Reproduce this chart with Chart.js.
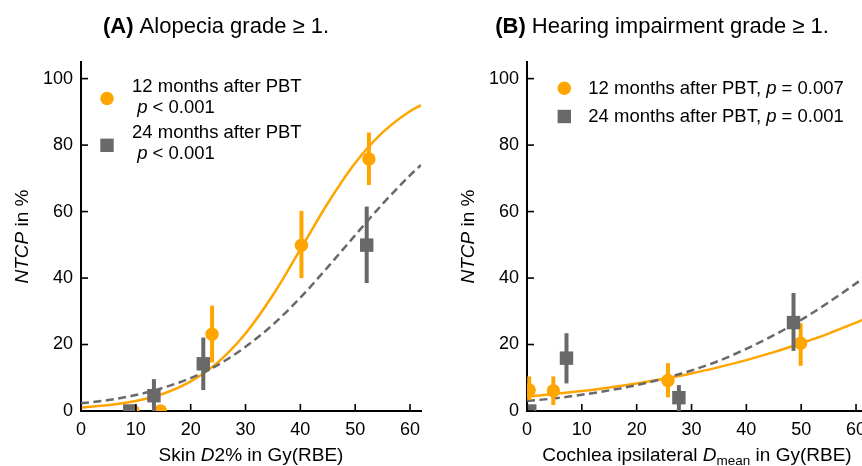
<!DOCTYPE html>
<html>
<head>
<meta charset="utf-8">
<script src="https://cdn.jsdelivr.net/npm/chart.js@4.4.1/dist/chart.umd.min.js"></script>
<style>
  html, body { margin: 0; padding: 0; background: #fff; }
  #wrap { position: relative; width: 862px; height: 466px; overflow: hidden; }
  canvas { position: absolute; top: 0; }
  #chartA { left: 0; }
  #chartB { left: 446px; }
</style>
</head>
<body>
<div id="wrap">
  <canvas id="chartA" width="431" height="466"></canvas>
  <canvas id="chartB" width="431" height="466"></canvas>
</div>
<script>
/* Ticks */
const xTicks = [0, 10, 20, 30, 40, 50, 60];
const yTicks = [0, 20, 40, 60, 80, 100];

/* Fitted NTCP curves */
const curveX = [0, 5, 10, 15, 20, 25, 30, 35, 40, 45, 50, 55, 60, 62];
const alopeciaFit12 = [1.0, 1.8, 3.0, 5.2, 8.9, 14.7, 23.3, 34.9, 48.6, 62.5, 74.6, 83.8, 90.2, 92.0];
const alopeciaFit24 = [2.3, 3.3, 4.8, 7.0, 9.9, 13.9, 19.3, 26.0, 34.1, 43.3, 52.9, 62.3, 70.9, 74.0];
const hearingFit12 = [4.3, 5.1, 6.0, 7.1, 8.3, 9.7, 11.3, 13.2, 15.3, 17.7, 20.4, 23.3, 26.6, 27.9];
const hearingFit24 = [3.0, 3.8, 4.9, 6.2, 7.8, 9.8, 12.2, 15.1, 18.7, 22.8, 27.4, 32.7, 38.4, 40.8];

/* (A) observed rates with error bars */
const alopeciaDose12 = [9.5, 14.5, 23.9, 40.2, 52.5];
const alopeciaRate12 = [0, 0, 23.1, 49.9, 75.8];
const alopeciaLow12  = [0, 0, 14.6, 40.0, 68.0];
const alopeciaHigh12 = [0, 0, 31.7, 60.2, 83.8];
const alopeciaDose24 = [8.9, 13.3, 22.3, 52.1];
const alopeciaRate24 = [0, 4.6, 14.2, 49.9];
const alopeciaLow24  = [0, 0, 6.3, 38.5];
const alopeciaHigh24 = [0, 9.6, 22.1, 61.5];

/* (B) observed rates with error bars */
const hearingDose12 = [0.4, 4.8, 25.7, 49.9];
const hearingRate12 = [6.3, 6.1, 9.2, 20.4];
const hearingLow12  = [3.3, 1.8, 4.1, 13.6];
const hearingHigh12 = [10.4, 10.4, 14.4, 26.4];
const hearingDose24 = [0.5, 7.2, 27.7, 48.6];
const hearingRate24 = [0, 15.9, 4.0, 26.6];
const hearingLow24  = [0, 8.3, 0, 18.1];
const hearingHigh24 = [0, 23.4, 7.8, 35.5];

const FONT = '"Liberation Sans", Arial, Helvetica, sans-serif';
const ORANGE = '#FFA500';
const GREY = '#696969';
const f = (size, style) => (style ? style + ' ' : '') + size + 'px ' + FONT;

function xy(xs, ys) {
  return xs.map((x, i) => ({ x, y: ys[i] }));
}

/* draw a row of text runs with mixed fonts */
function drawRuns(ctx, runs, x, y, align) {
  let total = 0;
  runs.forEach(r => { ctx.font = r.f; r.w = ctx.measureText(r.t).width; total += r.w; });
  let cx = align === 'center' ? x - total / 2 : x;
  ctx.textAlign = 'left';
  ctx.textBaseline = 'alphabetic';
  runs.forEach(r => { ctx.font = r.f; ctx.fillText(r.t, cx, y + (r.dy || 0)); cx += r.w; });
}

function panelPlugin(p) {
  return {
    id: 'panel' + p.id,
    beforeDatasetDraw(chart, args) {
      const ds = chart.data.datasets[args.index];
      if (!ds.errLow) return;
      const { ctx, chartArea: a, scales: { x, y } } = chart;
      ctx.save();
      ctx.beginPath();
      ctx.rect(a.left, a.top, a.right - a.left, a.bottom - a.top);
      ctx.clip();
      ctx.strokeStyle = ds.pointBackgroundColor;
      ctx.lineWidth = 4;
      ds.data.forEach((pt, i) => {
        if (ds.errHigh[i] === ds.errLow[i]) return;
        const px = x.getPixelForValue(pt.x);
        ctx.beginPath();
        ctx.moveTo(px, y.getPixelForValue(ds.errLow[i]));
        ctx.lineTo(px, y.getPixelForValue(ds.errHigh[i]));
        ctx.stroke();
      });
      ctx.restore();
    },
    afterDraw(chart) {
      const { ctx, chartArea: a, scales: { x, y } } = chart;
      ctx.save();

      /* inward tick marks */
      ctx.strokeStyle = '#000';
      ctx.lineWidth = 1.6;
      x.ticks.forEach(t => {
        const px = x.getPixelForValue(t.value);
        ctx.beginPath(); ctx.moveTo(px, a.bottom); ctx.lineTo(px, a.bottom - 7); ctx.stroke();
      });
      y.ticks.forEach(t => {
        const py = y.getPixelForValue(t.value);
        ctx.beginPath(); ctx.moveTo(a.left, py); ctx.lineTo(a.left + 7, py); ctx.stroke();
      });

      ctx.fillStyle = '#000';
      drawRuns(ctx, p.title, 216, 33, 'center');
      drawRuns(ctx, p.xTitle, (a.left + a.right) / 2, 461, 'center');

      ctx.save();
      ctx.translate(27.5, (a.top + a.bottom) / 2);
      ctx.rotate(-Math.PI / 2);
      drawRuns(ctx, [{ t: 'NTCP', f: f(19, 'italic') }, { t: ' in %', f: f(19) }], 0, 0, 'center');
      ctx.restore();

      /* legend */
      p.legend.forEach(item => {
        ctx.fillStyle = item.color;
        if (item.marker === 'circle') {
          ctx.beginPath(); ctx.arc(item.mx, item.my, 6.7, 0, Math.PI * 2); ctx.fill();
        } else {
          ctx.fillRect(item.mx - 6.7, item.my - 6.7, 13.4, 13.4);
        }
        ctx.fillStyle = '#000';
        item.lines.forEach(l => drawRuns(ctx, l.runs, l.x, l.y, 'left'));
      });
      ctx.restore();
    }
  };
}

function makeChart(id, p) {
  const ticksFont = { family: FONT, size: 18 };
  new Chart(document.getElementById(id), {
    type: 'scatter',
    data: {
      datasets: [
        {
          data: xy(curveX, p.fit12), showLine: true, fill: false,
          borderColor: ORANGE, borderWidth: 2.5, pointRadius: 0, pointHoverRadius: 0,
          cubicInterpolationMode: 'monotone', clip: 0, order: 3
        },
        {
          data: xy(curveX, p.fit24), showLine: true, fill: false,
          borderColor: GREY, borderWidth: 2.5, borderDash: [8, 4.5], pointRadius: 0, pointHoverRadius: 0,
          cubicInterpolationMode: 'monotone', clip: 0, order: 2
        },
        {
          data: xy(p.dose12, p.rate12), errLow: p.low12, errHigh: p.high12,
          pointStyle: 'circle', pointRadius: 6.7, pointHoverRadius: 6.7,
          pointBackgroundColor: ORANGE, pointBorderWidth: 0, clip: 0, order: 1
        },
        {
          data: xy(p.dose24, p.rate24), errLow: p.low24, errHigh: p.high24,
          pointStyle: 'rect', pointRadius: 9.5, pointHoverRadius: 9.5,
          pointBackgroundColor: GREY, pointBorderWidth: 0, clip: 0, order: 0
        }
      ]
    },
    options: {
      responsive: false,
      animation: false,
      events: [],
      layout: { padding: { top: 62, right: 10, left: 0, bottom: 0 } },
      plugins: { legend: { display: false }, tooltip: { enabled: false }, title: { display: false } },
      scales: {
        x: {
          type: 'linear', min: 0, max: 62,
          afterBuildTicks: s => { s.ticks = xTicks.map(v => ({ value: v })); },
          afterFit: s => { s.height = 55; },
          grid: { display: false, drawTicks: false, tickLength: 0 },
          border: { display: true, color: '#000', width: 2 },
          ticks: { color: '#000', font: ticksFont, padding: 8, maxRotation: 0, autoSkip: false }
        },
        y: {
          type: 'linear', min: 0, max: 105,
          afterBuildTicks: s => { s.ticks = yTicks.map(v => ({ value: v })); },
          afterFit: s => { s.width = 81; },
          grid: { display: false, drawTicks: false, tickLength: 0 },
          border: { display: true, color: '#000', width: 2 },
          ticks: { color: '#000', font: ticksFont, padding: 8, autoSkip: false }
        }
      }
    },
    plugins: [panelPlugin(p)]
  });
}

makeChart('chartA', {
  id: 'A',
  fit12: alopeciaFit12, fit24: alopeciaFit24,
  dose12: alopeciaDose12, rate12: alopeciaRate12, low12: alopeciaLow12, high12: alopeciaHigh12,
  dose24: alopeciaDose24, rate24: alopeciaRate24, low24: alopeciaLow24, high24: alopeciaHigh24,
  title: [{ t: '(A)', f: f(22, 'bold') }, { t: ' Alopecia grade \u2265 1.', f: f(22) }],
  xTitle: [{ t: 'Skin ', f: f(19) }, { t: 'D', f: f(19, 'italic') }, { t: '2% in Gy(RBE)', f: f(19) }],
  legend: [
    { marker: 'circle', color: ORANGE, mx: 107, my: 98.5, lines: [
      { x: 132, y: 91.7, runs: [{ t: '12 months after PBT', f: f(18.5) }] },
      { x: 132, y: 112.5, runs: [{ t: ' ', f: f(18.5) }, { t: 'p', f: f(18.5, 'italic') }, { t: ' < 0.001', f: f(18.5) }] }
    ] },
    { marker: 'rect', color: GREY, mx: 107, my: 145.3, lines: [
      { x: 132, y: 138.3, runs: [{ t: '24 months after PBT', f: f(18.5) }] },
      { x: 132, y: 159, runs: [{ t: ' ', f: f(18.5) }, { t: 'p', f: f(18.5, 'italic') }, { t: ' < 0.001', f: f(18.5) }] }
    ] }
  ]
});

makeChart('chartB', {
  id: 'B',
  fit12: hearingFit12, fit24: hearingFit24,
  dose12: hearingDose12, rate12: hearingRate12, low12: hearingLow12, high12: hearingHigh12,
  dose24: hearingDose24, rate24: hearingRate24, low24: hearingLow24, high24: hearingHigh24,
  title: [{ t: '(B)', f: f(22, 'bold') }, { t: ' Hearing impairment grade \u2265 1.', f: f(22) }],
  xTitle: [
    { t: 'Cochlea ipsilateral ', f: f(19) }, { t: 'D', f: f(19, 'italic') },
    { t: 'mean', f: f(13.5), dy: 4 }, { t: ' in Gy(RBE)', f: f(19) }
  ],
  legend: [
    { marker: 'circle', color: ORANGE, mx: 118.3, my: 88.3, lines: [
      { x: 142.3, y: 94, runs: [{ t: '12 months after PBT, ', f: f(18.5) }, { t: 'p', f: f(18.5, 'italic') }, { t: ' = 0.007', f: f(18.5) }] }
    ] },
    { marker: 'rect', color: GREY, mx: 118.3, my: 116.5, lines: [
      { x: 142.3, y: 121.7, runs: [{ t: '24 months after PBT, ', f: f(18.5) }, { t: 'p', f: f(18.5, 'italic') }, { t: ' = 0.001', f: f(18.5) }] }
    ] }
  ]
});
</script>
</body>
</html>
